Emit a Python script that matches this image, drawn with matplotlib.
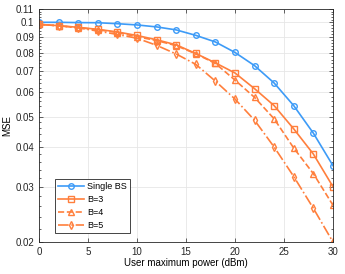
import numpy as np
from matplotlib import pyplot as plt
from matplotlib.ticker import FixedLocator, MultipleLocator, NullFormatter

power = [0, 2, 4, 6, 8, 10, 12, 14, 16, 18, 20, 22, 24, 26, 28, 30]
single_bs = [0.1000, 0.1000, 0.0998, 0.0997, 0.0990, 0.0981, 0.0967, 0.0946,
             0.0909, 0.0866, 0.0802, 0.0728, 0.0641, 0.0543, 0.0444, 0.0350]
b3 = [0.0985, 0.0976, 0.0964, 0.0950, 0.0932, 0.0908, 0.0880, 0.0848,
      0.0796, 0.0743, 0.0690, 0.0615, 0.0543, 0.0458, 0.0381, 0.0300]
b4 = [0.0985, 0.0975, 0.0962, 0.0947, 0.0928, 0.0900, 0.0875, 0.0843,
      0.0794, 0.0740, 0.0655, 0.0577, 0.0493, 0.0398, 0.0330, 0.0262]
b5 = [0.0985, 0.0975, 0.0960, 0.0938, 0.0915, 0.0890, 0.0845, 0.0793,
      0.0735, 0.0650, 0.0570, 0.0488, 0.0401, 0.0323, 0.0256, 0.0200]

yticks = [0.02, 0.03, 0.04, 0.05, 0.06, 0.07, 0.08, 0.09, 0.1, 0.11]
ytick_labels = ['0.02', '0.03', '0.04', '0.05', '0.06', '0.07', '0.08', '0.09', '0.1', '0.11']
xticks = [0, 5, 10, 15, 20, 25, 30]

plt.rcParams['font.family'] = ['Liberation Sans', 'DejaVu Sans']
plt.rcParams['font.size'] = 7

blue = '#3d9bf7'
orange = '#ff7f3c'

fig = plt.figure(figsize=(3.45, 2.74), dpi=100)
ax = fig.add_axes([0.113, 0.117, 0.852, 0.849])

# same marker style for every curve
mk = dict(mfc='none', ms=4, lw=1.2, mew=1.0)
ax.plot(power, single_bs, '-o', color=blue, label='Single BS', **mk)
ax.plot(power, b3, '-s', color=orange, label='B=3', **mk)
ax.plot(power, b4, '--^', color=orange, label='B=4', **mk)
ax.plot(power, b5, '-.d', color=orange, label='B=5', **mk)

ax.set_yscale('log')
ax.set_xlim(0, 30)
ax.set_ylim(0.02, 0.11)
ax.yaxis.set_major_locator(FixedLocator(yticks))
ax.set_yticklabels(ytick_labels)
ax.yaxis.set_minor_locator(MultipleLocator(0.002))
ax.yaxis.set_minor_formatter(NullFormatter())
ax.set_xticks(xticks)

ax.grid(True, which='major', color='#e6e6e6', lw=0.6)
ax.set_axisbelow(True)
ax.tick_params(which='both', direction='in', top=True, right=True, colors='#262626', labelcolor='#262626')
ax.tick_params(which='major', length=3, width=0.5)
ax.tick_params(which='minor', length=1.6, width=0.5)
for s in ax.spines.values():
    s.set_linewidth(0.6)
    s.set_color('#262626')

ax.set_xlabel('User maximum power (dBm)', labelpad=1)
ax.set_ylabel('MSE', labelpad=2)

leg = ax.legend(loc='lower left', bbox_to_anchor=(0.04, 0.018), fontsize=6.5, fancybox=False,
                edgecolor='#262626', framealpha=1, handlelength=2.8, borderpad=0.35,
                labelspacing=0.45, handletextpad=0.4)
leg.get_frame().set_linewidth(0.6)

fig.savefig('out.png', dpi=100)
